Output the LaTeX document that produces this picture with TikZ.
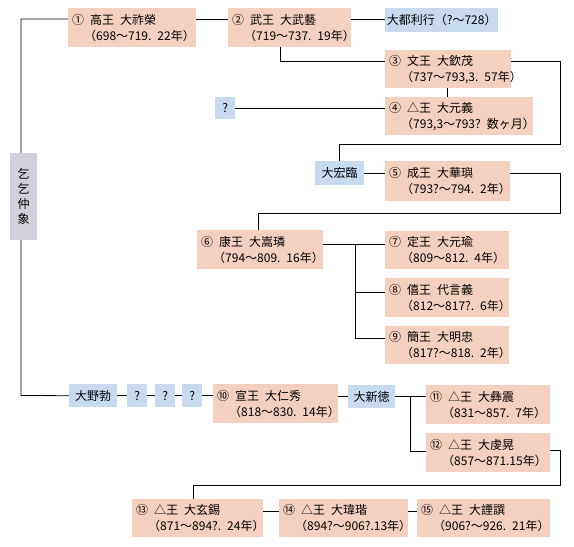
\documentclass[tikz,border=0pt]{standalone}
\usepackage{fontspec}
\newfontfamily\jp{Noto Sans CJK JP}
\usetikzlibrary{backgrounds}
\definecolor{peach}{RGB}{246,208,190}
\definecolor{lblue}{RGB}{200,218,240}
\definecolor{lgray}{RGB}{210,208,218}
\newcommand\jg{\hspace{0.5em}}
\newcommand\kl[2]{\mbox{#1}\\\mbox{\hspace*{12pt}#2}}
\begin{document}
\begin{tikzpicture}[x=1pt,y=-1pt,
  every node/.style={font=\jp\fontsize{12}{16}\selectfont, inner sep=0pt},
  kbox/.style={fill=peach, anchor=north west, align=left, inner xsep=4pt, inner ysep=0pt},
  bbox/.style={fill=lblue, anchor=north west, align=center},
  gbox/.style={fill=lgray, anchor=north west, align=center},
  conn/.style={draw=black, line width=0.8pt}]
\useasboundingbox (0,0) rectangle (574,547);
% kings
\node[kbox, minimum width=128pt, minimum height=39pt, text width=120pt] (n1) at (68,8) {\kl{①\jg 高王\jg 大祚榮}{（698～719. 22年）}};
\node[kbox, minimum width=123pt, minimum height=39pt, text width=115pt] (n2) at (228,8) {\kl{②\jg 武王\jg 大武藝}{（719～737. 19年）}};
\node[kbox, minimum width=126pt, minimum height=38pt, text width=118pt] (n3) at (385,50) {\kl{③\jg 文王\jg 大欽茂}{（737～793,3. 57年）}};
\node[kbox, minimum width=148pt, minimum height=38pt, text width=140pt] (n4) at (385,97) {\kl{④\jg △王\jg 大元義}{（793,3～793?\jg 数ヶ月）}};
\node[kbox, minimum width=125pt, minimum height=40pt, text width=117pt] (n5) at (385,161) {\kl{⑤\jg 成王\jg 大華璵}{（793?～794. 2年）}};
\node[kbox, minimum width=126pt, minimum height=39pt, text width=118pt] (n6) at (197,230) {\kl{⑥\jg 康王\jg 大嵩璘}{（794～809. 16年）}};
\node[kbox, minimum width=124pt, minimum height=38pt, text width=116pt] (n7) at (385,231) {\kl{⑦\jg 定王\jg 大元瑜}{（809～812. 4年）}};
\node[kbox, minimum width=124pt, minimum height=39pt, text width=116pt] (n8) at (385,278) {\kl{⑧\jg 僖王\jg 代言義}{（812～817?. 6年）}};
\node[kbox, minimum width=124pt, minimum height=38pt, text width=116pt] (n9) at (385,326) {\kl{⑨\jg 簡王\jg 大明忠}{（817?～818. 2年）}};
\node[kbox, minimum width=125pt, minimum height=39pt, text width=117pt] (n10) at (213,384) {\kl{⑩\jg 宣王\jg 大仁秀}{（818～830. 14年）}};
\node[kbox, minimum width=124pt, minimum height=39pt, text width=116pt] (n11) at (426,385) {\kl{⑪\jg △王\jg 大彝震}{（831～857. 7年）}};
\node[kbox, minimum width=124pt, minimum height=39pt, text width=116pt] (n12) at (426,433) {\kl{⑫\jg △王\jg 大虔晃}{（857～871.15年）}};
\node[kbox, minimum width=131pt, minimum height=38pt, text width=123pt] (n13) at (132,499) {\kl{⑬\jg △王\jg 大玄錫}{（871～894?. 24年）}};
\node[kbox, minimum width=129pt, minimum height=38pt, text width=121pt] (n14) at (279,499) {\kl{⑭\jg △王\jg 大瑋瑎}{（894?～906?.13年）}};
\node[kbox, minimum width=133pt, minimum height=38pt, text width=125pt] (n15) at (417,499) {\kl{⑮\jg △王\jg 大諲譔}{（906?～926. 21年）}};
% others
\node[bbox, minimum width=113pt, minimum height=24pt] (b1) at (385,8) {大都利行（?～728）};
\node[bbox, minimum width=20pt, minimum height=22pt] (q1) at (215,97) {?};
\node[bbox, minimum width=49pt, minimum height=24pt] (hl) at (315,161) {大宏臨};
\node[bbox, minimum width=48pt, minimum height=23pt] (yb) at (69,384) {大野勃};
\node[bbox, minimum width=20pt, minimum height=23pt] (q2) at (127,384) {?};
\node[bbox, minimum width=20pt, minimum height=23pt] (q3) at (155,384) {?};
\node[bbox, minimum width=20pt, minimum height=23pt] (q4) at (182,384) {?};
\node[bbox, minimum width=47pt, minimum height=23pt] (xd) at (348,385) {大新徳};
\node[gbox, minimum width=27pt, minimum height=87pt, font=\jp\fontsize{12}{15}\selectfont] (gz) at (10,153) {乞\\乞\\仲\\象};
% helper coordinates
\coordinate (lv) at (21,395.5);
\coordinate (r1) at (560,144);
\coordinate (r2) at (560,213);
\coordinate (r3) at (560,485);
\coordinate (b6) at (355,244);
\coordinate (b10) at (410,396.5);
\begin{scope}[on background layer]
\draw[conn] ([yshift=-11pt]n1.north west) -| (lv) -- (yb.west);
\draw[conn] ([yshift=-11pt]n1.north east) -- ([yshift=-11pt]n2.north west);
\draw[conn] ([yshift=-11pt]n2.north east) -- ([yshift=-11pt]n2.north east -| b1.west);
\draw[conn] ([xshift=52pt]n2.south west) |- ([yshift=-11pt]n3.north west);
\draw[conn] ([yshift=-11pt]n3.north east) -| (r1) -| (hl.north);
\draw[conn] ([xshift=62pt]n3.south west) -- ([xshift=62pt]n4.north west);
\draw[conn] (q1.east) -- (q1.east -| n4.west);
\draw[conn] (hl.east) -- (hl.east -| n5.west);
\draw[conn] ([yshift=-12pt]n5.north east) -| (r2) -| ([xshift=61pt]n6.north west);
\draw[conn] ([yshift=-14pt]n6.north east) -- ([yshift=-14pt]n6.north east -| n7.west);
\draw[conn] (b6) |- ([yshift=-14pt]n8.north west);
\draw[conn] (b6) |- ([yshift=-12pt]n9.north west);
\draw[conn] (yb.east) -- (q2.west);
\draw[conn] (q2.east) -- (q3.west);
\draw[conn] (q3.east) -- (q4.west);
\draw[conn] (q4.east) -- (q4.east -| n10.west);
\draw[conn] (xd.west -| n10.east) -- (xd.west);
\draw[conn] (xd.east) -- (xd.east -| n11.west);
\draw[conn] (b10) |- ([yshift=-18pt]n12.north west);
\draw[conn] ([yshift=-17pt]n12.north east) -| (r3) -| ([xshift=61pt]n13.north west);
\draw[conn] ([yshift=-12pt]n13.north east) -- ([yshift=-12pt]n14.north west);
\draw[conn] ([yshift=-12pt]n14.north east) -- ([yshift=-12pt]n15.north west);
\end{scope}
\end{tikzpicture}
\end{document}
